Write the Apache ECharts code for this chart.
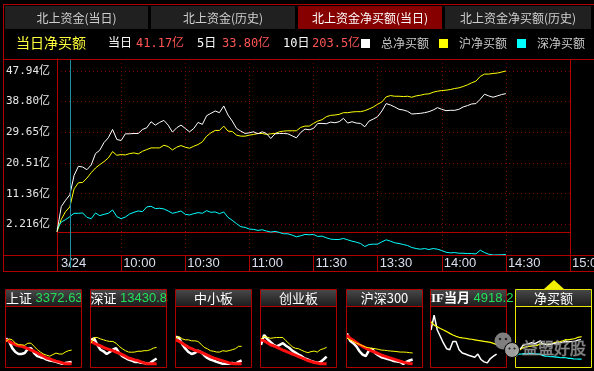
<!DOCTYPE html>
<html><head><meta charset="utf-8">
<script src="https://cdn.jsdelivr.net/npm/echarts@6/dist/echarts.min.js"></script>
<style>html,body{margin:0;padding:0;background:#000;}#c{width:594px;height:371px;}</style>
</head><body><div id="c"></div>
<script>
// ---------------- data ----------------
const tabLabels = ['北上资金(当日)', '北上资金(历史)', '北上资金净买额(当日)', '北上资金净买额(历史)'];
const activeTab = 2;
const pageTitle = '当日净买额';
const summaryLabels = ['当日', '5日', '10日'];
const summaryValues = ['41.17亿', '33.80亿', '203.5亿'];
const seriesNames = ['总净买额', '沪净买额', '深净买额'];
const xTickLabels = ['3/24', '10:00', '10:30', '11:00', '11:30', '13:30', '14:00', '14:30', '15:00'];
const yTickLabels = ['2.216亿', '11.36亿', '20.51亿', '29.65亿', '38.80亿', '47.94亿'];
const yMin = -6.929, yStep = 9.145, yMax = 51.5;
const sampleStep = 2;      // minutes between samples (trading minutes from 9:30)
const cursorMinute = 6;

// 总净买额 (亿)
const totalNet = [0,7.5,9.4,11.0,16.8,19.5,19.3,18.5,19.9,23.3,24.3,26.6,28.0,30.5,27.5,27.2,29.2,29.2,29.3,29.3,
  30.5,31.0,32.8,31.8,32.6,33.2,31.8,29.7,31.0,31.8,30.8,29.8,30.8,32.6,32.0,34.6,35.3,36.0,35.5,37.5,
  34.8,33.0,30.8,30.0,29.3,29.5,29.8,29.2,29.8,29.3,27.8,29.2,29.3,29.3,29.2,28.6,28.0,29.6,30.6,30.4,
  30.8,32.3,32.3,32.2,32.7,32.5,32.8,33.8,32.4,32.8,32.4,32.3,31.3,33.0,33.6,34.3,36.0,38.2,37.8,37.2,
  36.5,36.3,35.9,35.1,35.2,35.3,35.5,35.8,36.3,37.0,36.5,36.1,36.2,36.2,36.5,37.2,37.6,38.1,38.2,39.5,
  41.0,40.5,40.1,40.5,40.9,41.17];
// 沪净买额 (亿)
const shNet = [0,3.7,6,7.4,12.8,14.6,14.7,16,17.6,19,20,20.9,22,23.9,22.8,23,22.9,23.3,23.5,23.2,
  24,24.5,25,25,25,25.8,25.4,24.4,25.2,25.7,25.2,24.9,25.5,26,26.8,28.5,29.5,30.2,30.2,31.5,
  30,29.9,28.8,28.5,28.5,28.8,29,29.3,29.3,29,29.2,29.3,29.8,30,30.1,30.1,30.1,31.1,31.5,31.5,
  32.3,33,33.4,34.3,34.7,34.8,35,35.5,35.5,35.7,35.8,35.8,36.1,36.6,37.2,38,38.7,40.2,40.6,40.4,
  40.4,40.3,40.4,40.1,40.5,40.7,41,41.1,41.6,41.9,42.1,42.2,42.4,42.7,42.9,43.3,43.8,44.4,44.9,46.3,
  47,47,47.2,47.3,47.6,47.94];
// 深净买额 (亿)
const szNet = [0.8,2.9,3.6,4.5,5.5,5.5,5.6,4.3,3.9,5.6,4.8,5.2,5.5,6.5,4.5,3.9,4.4,5.3,5.8,6.2,
  6,7.4,7.6,6.9,7,6.8,6.2,5.5,5.8,6.2,5.2,5,5.4,5.7,5.5,6.3,5.8,5.9,5.4,5.9,
  4.3,3.4,2.4,1.5,1.3,0.8,0.7,0.4,0.6,0.2,-0.1,0.1,-0.2,-0.6,-0.6,-1,-1.5,-1.2,-0.8,-0.9,
  -0.8,-1.4,-1.3,-1.8,-2.2,-2.3,-2.3,-2,-2.4,-2.8,-3.1,-3.5,-4.4,-3.8,-3.7,-3.7,-3,-2.4,-2.8,-3.3,
  -3.5,-3.8,-4.1,-4.7,-5,-5.2,-5,-5.3,-5,-5.2,-5.6,-6.1,-6.3,-6.2,-6.4,-6.4,-6.5,-6.5,-6.6,-5.5,
  -6.2,-6.7,-6.93,-6.9,-6.85,-6.77];

// mini panels (relative intraday change, sampled every 10 minutes)
const miniStep = 10;
const miniTitles = ['上证', '深证', '中小板', '创业板', '沪深300', 'IF当月', '净买额'];
const miniQuotes = ['3372.63', '13430.83', '', '', '', '4918.2', ''];
const shIdxWhite  = [1.33,1.17,0.83,0.63,0.53,0.53,0.58,0.8,0.83,0.58,0.42,0.37,0.33,0.25,0.2,0.17,0.13,0.08,0.03,0.07,0.1,0.13];
const shIdxRed    = [1.25,1.17,1.08,1,0.95,0.92,0.87,0.8,0.73,0.67,0.58,0.5,0.42,0.33,0.28,0.22,0.17,0.13,0.08,0.03,0.03,0.03];
const shIdxYellow = [1.17,1.3,1.25,1.08,1,1,0.97,1.08,1.08,0.92,0.75,0.63,0.53,0.47,0.42,0.5,0.58,0.53,0.53,0.63,0.7,0.73];
const szIdxWhite  = [1.25,1.33,1,0.75,0.67,0.53,0.63,0.75,0.83,0.58,0.42,0.33,0.25,0.2,0.13,0.13,0.08,0.07,0.03,0.08,0.2,0.3];
const szIdxRed    = [1.17,1.08,1,0.95,0.87,0.8,0.75,0.7,0.63,0.57,0.5,0.42,0.33,0.28,0.23,0.2,0.13,0.08,0.03,0.03,0.03,0.03];
const szIdxYellow = [1.08,1.37,1.37,1.3,1.25,1.2,1.17,1.17,1.08,0.92,0.8,0.7,0.63,0.62,0.63,0.67,0.67,0.7,0.7,0.75,0.83,0.87];
const zxbWhite  = [1.42,1.33,1.03,0.8,0.63,0.53,0.58,0.7,0.63,0.47,0.33,0.25,0.2,0.13,0.08,0.03,0.03,0.03,0.08,0.03,0.13,0.2];
const zxbRed    = [1.25,1.17,1.08,0.97,0.87,0.8,0.73,0.67,0.62,0.55,0.47,0.4,0.33,0.28,0.23,0.18,0.13,0.08,0.05,0.03,0.03,0.03];
const zxbYellow = [1.33,1.42,1.3,1.25,1.25,1.2,1.2,1.17,1.03,0.87,0.8,0.7,0.67,0.63,0.63,0.7,0.67,0.7,0.75,0.8,0.92,0.92];
const cybWhite  = [1.0,1.5,1.3,1.15,1.0,0.92,1.0,1.08,0.95,0.85,0.7,0.6,0.5,0.42,0.3,0.25,0.18,0.13,0.08,0.12,0.25,0.4];
const cybRed    = [1.25,1.2,1.1,1.0,0.95,0.88,0.8,0.73,0.67,0.6,0.53,0.47,0.4,0.33,0.27,0.2,0.15,0.1,0.07,0.04,0.03,0.03];
const cybYellow = [1.3,1.42,1.38,1.33,1.35,1.37,1.37,1.37,1.2,1.05,0.9,0.82,0.8,0.72,0.65,0.6,0.65,0.68,0.63,0.75,0.8,0.87];
const hs300White  = [1.58,1.2,1.08,0.92,0.67,0.5,0.42,0.7,0.8,0.58,0.47,0.37,0.33,0.28,0.23,0.17,0.15,0.13,0.03,0.13,0.2,0.25];
const hs300Red    = [1.5,1.33,1.23,1.12,1.0,0.92,0.83,0.75,0.68,0.62,0.55,0.48,0.42,0.37,0.32,0.27,0.22,0.17,0.12,0.08,0.05,0.03];
const hs300Yellow = [1.33,1.25,1.17,1.08,1.02,0.95,0.88,0.85,0.82,0.8,0.77,0.73,0.72,0.7,0.68,0.67,0.65,0.63,0.63,0.62,0.6,0.58];
const ifWhite  = [1.75,2.5,1.75,1.42,1.08,0.8,0.75,1.17,1.17,0.75,0.58,0.53,0.47,0.42,0.37,0.53,0.25,0.13,0.08,0.3,0.42,0.53];
const ifYellow = [2.17,2.0,1.92,1.83,1.75,1.67,1.58,1.5,1.43,1.38,1.35,1.33,1.3,1.28,1.25,1.22,1.2,1.17,1.15,1.12,1.07,1.0];
const miniYMin = -0.13, miniYMax = 2.92;
const netMiniYMin = -26, netMiniYMax = 120;
const watermarkText = '益盟好股';

// ---------------- styles / layout ----------------
const RED = '#b00000', DOT = '#800000', GREEN = '#22e05a';
const CJK = '"Noto Sans CJK SC"';
const MONO = '"DejaVu Sans Mono","Noto Sans CJK SC"';
const SANS = '"Liberation Sans","Noto Sans CJK SC"';
const WHITE = '#ffffff', YELLOW = '#ffff00', CYAN = '#00ffff', MINIRED = '#ff1010';

function pairs(arr, step) { return arr.map((v, i) => [i * step, v]); }

const chart = echarts.init(document.getElementById('c'), null, {renderer: 'canvas', width: 594, height: 371});

const grids = [{left: 57, top: 59, width: 513, height: 196, show: false, containLabel: false, outerBoundsMode: 'none'}];
const xAxes = [{
  type: 'value', gridIndex: 0, min: 0, max: 240, interval: 30,
  axisLine: {show: true, onZero: false, lineStyle: {color: RED, width: 1}},
  axisTick: {show: true, inside: false, length: 17, lineStyle: {color: RED, width: 1}},
  splitLine: {show: true, lineStyle: {color: DOT, width: 1, type: [1, 3]}},
  axisLabel: {
    show: true, margin: 2, align: 'left', hideOverlap: false, showMinLabel: true, showMaxLabel: true,
    formatter: function (v) {
      const k = Math.round(v / 30);
      const s = xTickLabels[k] || '';
      return k === 0 ? '{a|' + s + '}' : '{b|' + s + '}';
    },
    rich: {
      a: {color: '#dcdff0', fontSize: 13, fontFamily: SANS, padding: [0, 0, 0, 4]},
      b: {color: '#dcdff0', fontSize: 13, fontFamily: SANS, padding: [0, 0, 0, 2]}
    }
  }
}];
const yAxes = [{
  type: 'value', gridIndex: 0, min: yMin, max: yMax, interval: yStep,
  axisLine: {show: true, onZero: false, lineStyle: {color: RED, width: 1}},
  axisTick: {show: false},
  splitLine: {show: true, lineStyle: {color: DOT, width: 1, type: [1, 3]}},
  axisLabel: {
    show: true, margin: 7, color: '#e8e8e8', fontSize: 11, fontFamily: MONO,
    showMinLabel: true, showMaxLabel: true, hideOverlap: false,
    formatter: function (v) {
      const k = Math.round((v - yMin) / yStep);
      if (k >= 1 && k <= yTickLabels.length && Math.abs(v - (yMin + k * yStep)) < 0.01) return yTickLabels[k - 1];
      return '';
    }
  }
}];

const series = [
  {name: seriesNames[1], type: 'line', xAxisIndex: 0, yAxisIndex: 0, data: pairs(shNet, sampleStep), symbol: 'none',
   lineStyle: {color: YELLOW, width: 1}, itemStyle: {color: YELLOW}, z: 3, silent: true},
  {name: seriesNames[2], type: 'line', xAxisIndex: 0, yAxisIndex: 0, data: pairs(szNet, sampleStep), symbol: 'none',
   lineStyle: {color: CYAN, width: 1}, itemStyle: {color: CYAN}, z: 3, silent: true,
   markLine: {silent: true, symbol: 'none', label: {show: false}, lineStyle: {color: RED, width: 1, type: 'solid'},
              data: [{yAxis: 0}], z: 1}},
  {name: seriesNames[0], type: 'line', xAxisIndex: 0, yAxisIndex: 0, data: pairs(totalNet, sampleStep), symbol: 'none',
   lineStyle: {color: WHITE, width: 1}, itemStyle: {color: WHITE}, z: 4, silent: true}
];

// mini panels
const panelLeft = [5, 90, 175, 260, 346, 430, 515];
const miniSets = [
  [[shIdxWhite, WHITE, 2.5], [shIdxRed, MINIRED, 3], [shIdxYellow, YELLOW, 1]],
  [[szIdxWhite, WHITE, 2.5], [szIdxRed, MINIRED, 3], [szIdxYellow, YELLOW, 1]],
  [[zxbWhite, WHITE, 2.5], [zxbRed, MINIRED, 3], [zxbYellow, YELLOW, 1]],
  [[cybWhite, WHITE, 2.5], [cybRed, MINIRED, 3], [cybYellow, YELLOW, 1]],
  [[hs300White, WHITE, 2.5], [hs300Red, MINIRED, 3], [hs300Yellow, YELLOW, 1]],
  [[ifWhite, WHITE, 1.5], [ifYellow, YELLOW, 1.2]]
];
panelLeft.forEach(function (px, i) {
  const gi = i + 1;
  grids.push({left: px + 1, top: 307, width: 75, height: 60, show: false, containLabel: false, outerBoundsMode: 'none'});
  xAxes.push({type: 'value', gridIndex: gi, min: 0, max: 240, show: false});
  const isNet = i === 6;
  yAxes.push({type: 'value', gridIndex: gi, min: isNet ? netMiniYMin : miniYMin, max: isNet ? netMiniYMax : miniYMax, show: false});
  if (!isNet) {
    miniSets[i].forEach(function (s, j) {
      series.push({name: 'mini' + i + '_' + j, type: 'line', xAxisIndex: gi, yAxisIndex: gi, data: pairs(s[0], miniStep),
        symbol: 'none', lineStyle: {color: s[1], width: s[2]}, silent: true, z: 2 + j});
    });
  } else {
    [[shNet, YELLOW], [szNet, CYAN], [totalNet, WHITE]].forEach(function (s, j) {
      series.push({name: 'miniNet_' + j, type: 'line', xAxisIndex: gi, yAxisIndex: gi, data: pairs(s[0], sampleStep),
        symbol: 'none', lineStyle: {color: s[1], width: 1.2}, silent: true, z: 2 + j});
    });
  }
});

// ---------------- graphic (frames, tabs, texts) ----------------
const G = [];
function L(x1, y1, x2, y2, color, z) {
  G.push({type: 'line', shape: {x1: x1, y1: y1, x2: x2, y2: y2}, style: {stroke: color, lineWidth: 1}, z: z || 5, silent: true});
}
function T(x, y, text, fill, font, align, z, rich) {
  const st = {text: text, fill: fill, font: font, textAlign: align || 'left', align: align || 'left',
              textVerticalAlign: 'middle', verticalAlign: 'middle'};
  if (rich) st.rich = rich;
  G.push({type: 'text', x: x, y: y, style: st, z: z || 6, silent: true});
}
// outer frame
L(3, 4.5, 594, 4.5, RED);
L(3.5, 4, 3.5, 272, RED);
L(3, 59.5, 594, 59.5, RED);
L(3, 255.5, 594, 255.5, RED);
L(3, 271.5, 594, 271.5, RED);
L(570.5, 59, 570.5, 272, RED);
// tabs
const tabX = [[5, 148], [151, 295], [298, 442], [445, 591]];
tabLabels.forEach(function (t, i) {
  const a = i === activeTab;
  G.push({type: 'rect', shape: {x: tabX[i][0], y: 6, width: tabX[i][1] - tabX[i][0], height: 23},
          style: {fill: a ? '#870000' : '#202020'}, z: 1, silent: true});
  T((tabX[i][0] + tabX[i][1]) / 2, 18, t, a ? '#ffffff' : '#d0d0d0', '12px ' + CJK, 'center');
});
// header row
T(16, 43, pageTitle, '#ffff3c', '14px ' + CJK);
const sumLX = [108, 197, 283], sumVX = [136, 222, 312];
summaryLabels.forEach(function (s, i) {
  T(sumLX[i], 43.5, s, '#ffffff', '12px ' + MONO);
  T(sumVX[i], 43.5, summaryValues[i], '#ff5555', '12px ' + MONO);
});
// mini panels frames
panelLeft.forEach(function (px, i) {
  const isNet = i === 6;
  const c = isNet ? '#e8e800' : RED;
  G.push({type: 'rect', shape: {x: px + 1, y: 290, width: 76, height: 16.5},
          style: {fill: {type: 'linear', x: 0, y: 0, x2: 0, y2: 1,
                         colorStops: [{offset: 0, color: '#474747'}, {offset: 1, color: '#1c1c1c'}]}}, z: 1, silent: true});
  if (miniQuotes[i]) {
    const tFont = i === 5 ? '"Liberation Serif","Noto Sans CJK SC"' : CJK;
    T(px + (i === 1 ? 0.5 : 1), 298.5, '{t|' + miniTitles[i] + '}{q| ' + miniQuotes[i] + '}', '#fff', '13px ' + CJK, 'left', 6,
      {t: {fill: '#ffffff', fontSize: 13, fontFamily: tFont, fontWeight: i === 5 ? 'bold' : 'normal'},
       q: {fill: GREEN, fontSize: 13, fontFamily: SANS}});
  } else {
    T(px + 38.5, 298.5, miniTitles[i], '#ffffff', '13px ' + CJK, 'center');
  }
  G.push({type: 'rect', shape: {x: px + 0.5, y: 289.5, width: 76, height: 78}, style: {fill: 'none', stroke: c, lineWidth: 1}, z: 8, silent: true});
  L(px + 1, 306.5, px + 77, 306.5, c, 8);
});
// mask overflow between panel 2 and 3
G.push({type: 'rect', shape: {x: 168, y: 288, width: 6.5, height: 20}, style: {fill: '#000'}, z: 7, silent: true});
// selection marker above active mini panel
G.push({type: 'polygon', shape: {points: [[544, 289], [554, 280], [564, 289]]}, style: {fill: '#f2f000'}, z: 8, silent: true});
// watermark
G.push({type: 'circle', shape: {cx: 503, cy: 341, r: 8.5}, style: {fill: 'rgba(140,140,140,0.9)'}, z: 20, silent: true});
G.push({type: 'circle', shape: {cx: 500, cy: 339, r: 1.3}, style: {fill: '#222'}, z: 21, silent: true});
G.push({type: 'circle', shape: {cx: 506, cy: 339, r: 1.3}, style: {fill: '#222'}, z: 21, silent: true});
G.push({type: 'circle', shape: {cx: 512, cy: 350, r: 7.5}, style: {fill: 'rgba(165,165,165,0.95)', stroke: '#000', lineWidth: 1}, z: 22, silent: true});
G.push({type: 'circle', shape: {cx: 509.5, cy: 348.5, r: 1.1}, style: {fill: '#222'}, z: 23, silent: true});
G.push({type: 'circle', shape: {cx: 514.5, cy: 348.5, r: 1.1}, style: {fill: '#222'}, z: 23, silent: true});
G.push({type: 'text', x: 522, y: 347.5, style: {text: watermarkText, fill: 'rgba(150,150,150,0.8)', stroke: 'rgba(230,230,230,0.35)', lineWidth: 1,
        font: '16px ' + CJK, textAlign: 'left', align: 'left', textVerticalAlign: 'middle', verticalAlign: 'middle'}, z: 20, silent: true});

const option = {
  backgroundColor: '#000000',
  animation: false,
  legend: {
    show: true, data: seriesNames, left: 361, top: 37.5, orient: 'horizontal', icon: 'rect',
    itemWidth: 9, itemHeight: 9, itemGap: 10, selectedMode: false, padding: 0,
    textStyle: {color: '#c8c8c8', fontSize: 12, fontFamily: CJK, padding: [0, 0, 0, 6], lineHeight: 12}
  },
  grid: grids, xAxis: xAxes, yAxis: yAxes, series: series
};
chart.setOption(option);
const cx = Math.round(chart.convertToPixel({xAxisIndex: 0}, cursorMinute)) + 0.5;
G.push({type: 'line', shape: {x1: cx, y1: 60, x2: cx, y2: 268}, style: {stroke: '#1f8e9e', lineWidth: 1}, z: 9, silent: true});
chart.setOption({graphic: {elements: G}});
</script>
</body></html>
